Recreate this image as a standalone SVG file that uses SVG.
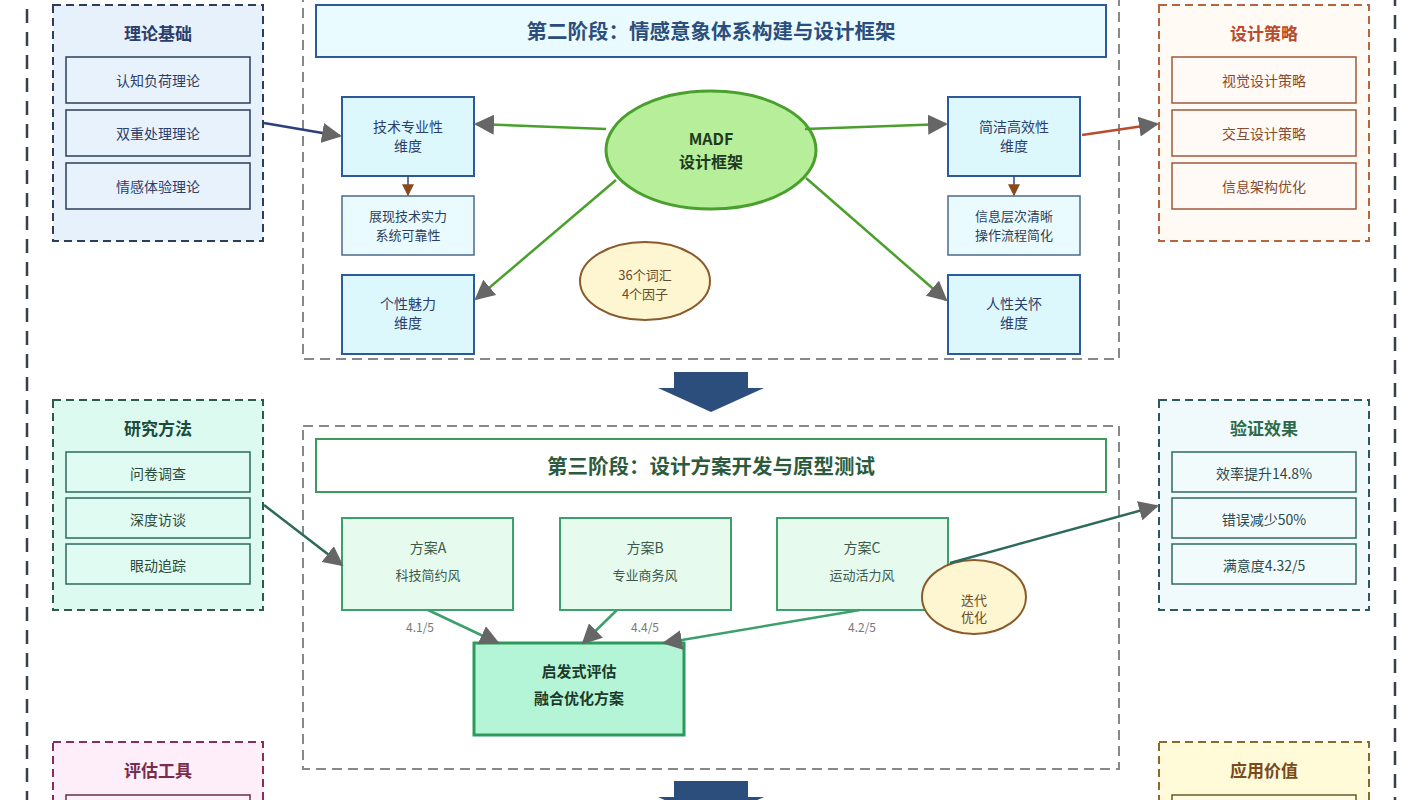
<svg xmlns="http://www.w3.org/2000/svg" width="1422" height="800" viewBox="0 0 1422 800">
<style>
text{font-family:"Noto Sans CJK SC","Noto Sans",sans-serif;text-anchor:middle;dominant-baseline:central}
.t{font-size:17px;font-weight:bold}
.i{font-size:14px}
.s{font-size:13px}
.dash{stroke-dasharray:8 5;stroke-width:2}
.cont{fill:none;stroke:#888;stroke-width:2;stroke-dasharray:10 6}
.dim{fill:#ddf8fd;stroke:#2c5a9c;stroke-width:2}
.sub{fill:#eafbff;stroke:#4a6a8c;stroke-width:1.5}
.sch{fill:#e6fbee;stroke:#3ca06c;stroke-width:2}
.g{stroke:#4aa02c;stroke-width:2.5;fill:none}
.gg{stroke:#3ca06c;stroke-width:2.5;fill:none}
</style>
<defs>
<marker id="ag" viewBox="0 0 10 10" refX="9" refY="5" markerWidth="20" markerHeight="20" markerUnits="userSpaceOnUse" orient="auto"><path d="M0,0L10,5L0,10z" fill="#666"/></marker>
<marker id="ab" viewBox="0 0 10 10" refX="9" refY="5" markerWidth="12" markerHeight="12" markerUnits="userSpaceOnUse" orient="auto"><path d="M0,0L10,5L0,10z" fill="#8a4a1c"/></marker>
</defs>
<rect width="1422" height="800" fill="#fff"/>
<rect x="27" y="-20" width="1368" height="850" fill="none" stroke="#3a3f4c" stroke-width="2.5" stroke-dasharray="14 9"/>

<g id="theory">
<rect x="53" y="5" width="210" height="236" fill="#e6f1fb" stroke="#2c3e5c" class="dash"/>
<text x="158" y="32" class="t" fill="#2c3e6c">理论基础</text>
<g fill="#e8f2fc" stroke="#2c3e5c" stroke-width="1.5">
<rect x="66" y="57" width="184" height="46"/><rect x="66" y="110" width="184" height="46"/><rect x="66" y="163" width="184" height="46"/></g>
<g fill="#2c3e6c"><text x="158" y="80" class="i">认知负荷理论</text><text x="158" y="133" class="i">双重处理理论</text><text x="158" y="186" class="i">情感体验理论</text></g>
</g>

<g id="strategy">
<rect x="1159" y="5" width="210" height="236" fill="#fffaf3" stroke="#b8643c" class="dash"/>
<text x="1264" y="32" class="t" fill="#b84c2c">设计策略</text>
<g fill="#fffaf5" stroke="#a0583c" stroke-width="1.5">
<rect x="1172" y="57" width="184" height="46"/><rect x="1172" y="110" width="184" height="46"/><rect x="1172" y="163" width="184" height="46"/></g>
<g fill="#8a4a2c"><text x="1264" y="80" class="i">视觉设计策略</text><text x="1264" y="133" class="i">交互设计策略</text><text x="1264" y="186" class="i">信息架构优化</text></g>
</g>

<g id="phase2">
<rect x="303" y="-20" width="816" height="379" class="cont"/>
<rect x="316" y="5" width="790" height="52" fill="#eafbff" stroke="#2c5a9c" stroke-width="2"/>
<text x="711" y="30" font-size="20.5" font-weight="bold" fill="#2c4e7c">第二阶段：情感意象体系构建与设计框架</text>
</g>
<g id="dim-tech"><rect x="342" y="97" width="132" height="79" class="dim"/><text x="408" y="126" class="i" fill="#2c3e6c">技术专业性</text><text x="408" y="145" class="i" fill="#2c3e6c">维度</text></g>
<g id="sub-tech"><rect x="342" y="196" width="132" height="59" class="sub"/><text x="408" y="215" class="s" fill="#2c3e5c">展现技术实力</text><text x="408" y="234" class="s" fill="#2c3e5c">系统可靠性</text></g>
<g id="dim-charm"><rect x="342" y="275" width="132" height="79" class="dim"/><text x="408" y="303" class="i" fill="#2c3e6c">个性魅力</text><text x="408" y="322" class="i" fill="#2c3e6c">维度</text></g>
<g id="dim-simple"><rect x="948" y="97" width="132" height="79" class="dim"/><text x="1014" y="126" class="i" fill="#2c3e6c">简洁高效性</text><text x="1014" y="145" class="i" fill="#2c3e6c">维度</text></g>
<g id="sub-simple"><rect x="948" y="196" width="132" height="59" class="sub"/><text x="1014" y="215" class="s" fill="#2c3e5c">信息层次清晰</text><text x="1014" y="234" class="s" fill="#2c3e5c">操作流程简化</text></g>
<g id="dim-human"><rect x="948" y="275" width="132" height="79" class="dim"/><text x="1014" y="303" class="i" fill="#2c3e6c">人性关怀</text><text x="1014" y="322" class="i" fill="#2c3e6c">维度</text></g>
<g id="madf"><ellipse cx="711" cy="150" rx="105" ry="59" fill="#b6ee9a" stroke="#4aa02c" stroke-width="3"/><text x="711" y="138" font-size="16" font-weight="bold" fill="#1f3a1f">MADF</text><text x="711" y="161" font-size="16" font-weight="bold" fill="#1f3a1f">设计框架</text></g>
<g id="vocab"><ellipse cx="645" cy="281" rx="65" ry="39" fill="#fdf6d0" stroke="#8a5a2c" stroke-width="2"/><text x="645" y="274" class="s" fill="#6a4a2c">36个词汇</text><text x="645" y="293" class="s" fill="#6a4a2c">4个因子</text></g>

<g id="arrow-down-1"><path d="M674,372H748V388H764L711,412L658,388H674Z" fill="#2c4e7c"/></g>
<g id="arrow-down-2"><path d="M674,781H748V797H764L711,821L658,797H674Z" fill="#2c4e7c"/></g>

<g id="methods">
<rect x="53" y="400" width="210" height="210" fill="#ddfaf0" stroke="#2c5a4c" class="dash"/>
<text x="158" y="427" class="t" fill="#1c4a3c">研究方法</text>
<g fill="#e0fbf2" stroke="#2c6a5c" stroke-width="1.5">
<rect x="66" y="452" width="184" height="40"/><rect x="66" y="498" width="184" height="40"/><rect x="66" y="544" width="184" height="40"/></g>
<g fill="#2c4a3c"><text x="158" y="473" class="i">问卷调查</text><text x="158" y="519" class="i">深度访谈</text><text x="158" y="565" class="i">眼动追踪</text></g>
</g>

<g id="results">
<rect x="1159" y="400" width="210" height="210" fill="#f0fafc" stroke="#2c5a5c" class="dash"/>
<text x="1264" y="427" class="t" fill="#2c6a4c">验证效果</text>
<g fill="#f2fbfc" stroke="#2c6a5c" stroke-width="1.5">
<rect x="1172" y="452" width="184" height="40"/><rect x="1172" y="498" width="184" height="40"/><rect x="1172" y="544" width="184" height="40"/></g>
<g fill="#2c4a4c"><text x="1264" y="473" class="i">效率提升14.8%</text><text x="1264" y="519" class="i">错误减少50%</text><text x="1264" y="565" class="i">满意度4.32/5</text></g>
</g>

<g id="phase3">
<rect x="303" y="426" width="816" height="343" class="cont"/>
<rect x="316" y="439" width="790" height="53" fill="#fff" stroke="#3c9a5c" stroke-width="2"/>
<text x="711" y="465" font-size="20.5" font-weight="bold" fill="#2c5a3c">第三阶段：设计方案开发与原型测试</text>
</g>
<g id="schemeA"><rect x="342" y="518" width="171" height="92" class="sch"/><text x="428" y="547" class="i" fill="#3c5a4c">方案A</text><text x="428" y="574" class="s" fill="#3c5a4c">科技简约风</text></g>
<g id="schemeB"><rect x="560" y="518" width="171" height="92" class="sch"/><text x="645" y="547" class="i" fill="#3c5a4c">方案B</text><text x="645" y="574" class="s" fill="#3c5a4c">专业商务风</text></g>
<g id="schemeC"><rect x="777" y="518" width="171" height="92" class="sch"/><text x="862" y="547" class="i" fill="#3c5a4c">方案C</text><text x="862" y="574" class="s" fill="#3c5a4c">运动活力风</text></g>
<g id="eval"><rect x="474" y="643" width="210" height="92" fill="#b4f5d8" stroke="#2c9a5c" stroke-width="3"/><text x="579" y="670" font-size="15" font-weight="bold" fill="#1c3a2c">启发式评估</text><text x="579" y="697" font-size="15" font-weight="bold" fill="#1c3a2c">融合优化方案</text></g>
<g id="iterate"><ellipse cx="974" cy="597" rx="52" ry="37" fill="#fdf6d0" stroke="#8a5a2c" stroke-width="2"/><text x="974" y="599" class="s" fill="#6a4a2c">迭代</text><text x="974" y="616" class="s" fill="#6a4a2c">优化</text></g>

<g id="tools">
<rect x="53" y="742" width="210" height="100" fill="#fdeefa" stroke="#8a2c5c" class="dash"/>
<text x="158" y="769" class="t" fill="#7a2c4c">评估工具</text>
<rect x="66" y="795" width="184" height="40" fill="#fdf0fa" stroke="#6a2c4c" stroke-width="1.5"/>
</g>
<g id="value">
<rect x="1159" y="742" width="210" height="100" fill="#fffbd8" stroke="#8a6a2c" class="dash"/>
<text x="1264" y="769" class="t" fill="#7a4a1c">应用价值</text>
<rect x="1172" y="795" width="184" height="40" fill="#fffbe0" stroke="#6a5a2c" stroke-width="1.5"/>
</g>

<g id="connectors">
<line x1="264" y1="123" x2="340" y2="136" stroke="#2c3e7c" stroke-width="2.5" marker-end="url(#ag)"/>
<line x1="606" y1="129" x2="476" y2="124" class="g" marker-end="url(#ag)"/>
<line x1="805" y1="129" x2="946" y2="124" class="g" marker-end="url(#ag)"/>
<line x1="616" y1="180" x2="476" y2="299" class="g" marker-end="url(#ag)"/>
<line x1="806" y1="178" x2="946" y2="300" class="g" marker-end="url(#ag)"/>
<line x1="408" y1="176" x2="408" y2="195" stroke="#2c4a7c" stroke-width="1.5" marker-end="url(#ab)"/>
<line x1="1014" y1="176" x2="1014" y2="195" stroke="#2c4a7c" stroke-width="1.5" marker-end="url(#ab)"/>
<line x1="1082" y1="135" x2="1157" y2="124" stroke="#b84c2c" stroke-width="2.5" marker-end="url(#ag)"/>
<line x1="264" y1="505" x2="342" y2="565" stroke="#2c6a5c" stroke-width="2.5" marker-end="url(#ag)"/>
<line x1="428" y1="610" x2="498" y2="643" class="gg" marker-end="url(#ag)"/>
<line x1="617" y1="610" x2="583" y2="643" class="gg" marker-end="url(#ag)"/>
<line x1="860" y1="610" x2="664" y2="643" class="gg" marker-end="url(#ag)"/>
<line x1="950" y1="563" x2="1157" y2="506" stroke="#2c6a5c" stroke-width="2.5" marker-end="url(#ag)"/>
<g fill="#777" font-size="12"><text x="420" y="626">4.1/5</text><text x="645" y="626">4.4/5</text><text x="862" y="626">4.2/5</text></g>
</g>
</svg>
